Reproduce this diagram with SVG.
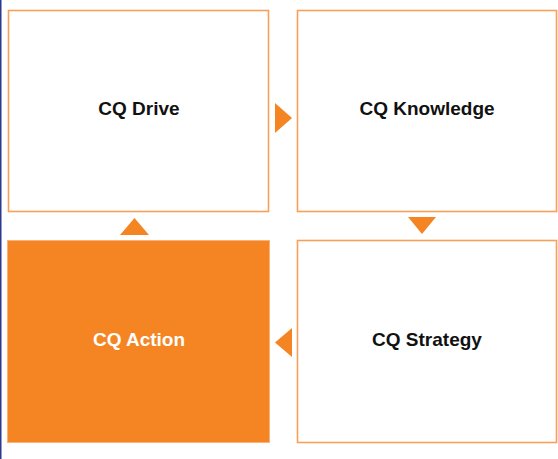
<svg xmlns="http://www.w3.org/2000/svg" width="558" height="459" viewBox="0 0 558 459">
<style>
.box{fill:#ffffff;stroke:#f7a05a;stroke-width:1.6}
.fill{fill:#f58523;stroke:#f9b27a;stroke-width:1}
.arrow{fill:#f58523}
.lbl{font-family:"Liberation Sans",Arial,sans-serif;font-weight:bold;font-size:19px;text-anchor:middle;fill:#111111}
.lblw{fill:#ffffff}
</style>
<rect x="0" y="0" width="558" height="459" fill="#ffffff"/>
<rect x="0" y="0" width="1.5" height="459" fill="#2b3990"/>
<g id="drive">
<rect class="box" x="8.5" y="10.5" width="260" height="201"/>
<text class="lbl" x="139" y="115">CQ Drive</text>
</g>
<g id="knowledge">
<rect class="box" x="297.5" y="10.5" width="259" height="201"/>
<text class="lbl" x="427" y="115">CQ Knowledge</text>
</g>
<g id="strategy">
<rect class="box" x="297.5" y="240.5" width="259" height="202"/>
<text class="lbl" x="427" y="346">CQ Strategy</text>
</g>
<g id="action">
<rect class="fill" x="7.5" y="240.5" width="262" height="202"/>
<text class="lbl lblw" x="139" y="346">CQ Action</text>
</g>
<g id="connectors">
<polygon class="arrow" points="275,103 292,118 275,133"/>
<polygon class="arrow" points="408,217 436,217 422,234"/>
<polygon class="arrow" points="292,328 292,357 275,342.5"/>
<polygon class="arrow" points="120,235 149,235 134.5,218"/>
</g>
</svg>
